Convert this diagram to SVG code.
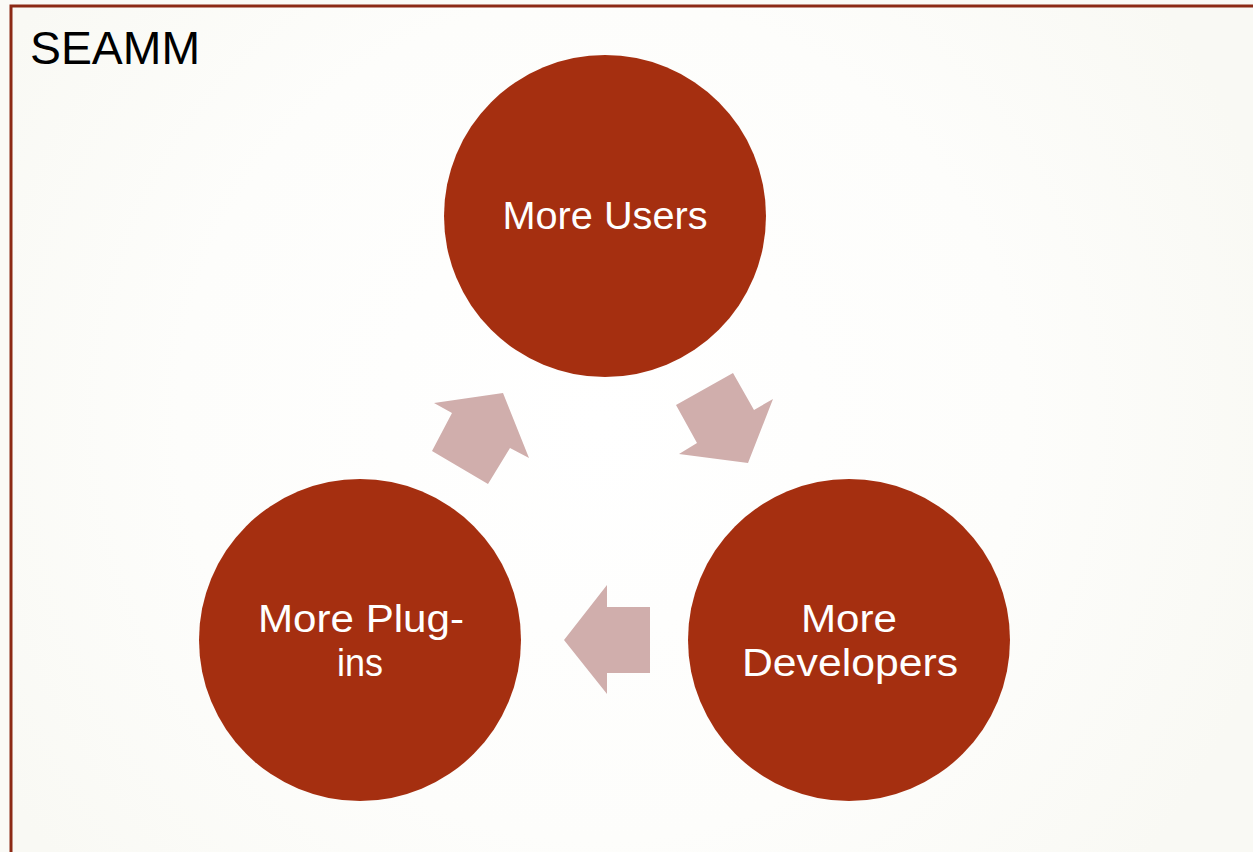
<svg xmlns="http://www.w3.org/2000/svg" width="1253" height="852" viewBox="0 0 1253 852">
  <defs>
    <radialGradient id="bg" cx="600" cy="420" r="700" gradientUnits="userSpaceOnUse">
      <stop offset="0" stop-color="#FFFFFF"/>
      <stop offset="0.6" stop-color="#FDFDFB"/>
      <stop offset="1" stop-color="#F9F9F4"/>
    </radialGradient>
  </defs>
  <style>
    .node circle { fill: #A52F10; }
    .node text { fill: #FFFFFF; font-family: "Liberation Sans", Arial, sans-serif; font-size: 38px; text-anchor: middle; lengthAdjust: spacingAndGlyphs; }
    .arrow { fill: #D0AEAC; }
    .title { fill: #000000; font-family: "Liberation Sans", Arial, sans-serif; font-size: 46px; }
  </style>

  <!-- slide background and frame -->
  <rect x="0" y="0" width="1253" height="852" fill="#FAFAF6"/>
  <rect x="11" y="6" width="1260" height="870" fill="url(#bg)" stroke="#8C2A15" stroke-width="3"/>

  <text class="title" x="30" y="64" textLength="170" lengthAdjust="spacingAndGlyphs">SEAMM</text>

  <!-- cycle arrows -->
  <g id="connectors">
    <polygon class="arrow" points="676,405 733,373 754,410 773,399 748,463 679,454 697,443"/>
    <polygon class="arrow" points="650,607 607,607 607,585 564,640 607,694 607,673 650,673"/>
    <polygon class="arrow" points="432,451 452,413 434,403 503,393 529,458 510,448 488,484"/>
  </g>

  <g id="users" class="node">
    <circle cx="605" cy="216" r="161"/>
    <text x="605" y="229" textLength="205" lengthAdjust="spacingAndGlyphs">More Users</text>
  </g>
  <g id="developers" class="node">
    <circle cx="849" cy="640" r="161"/>
    <text x="849" y="632" textLength="96" lengthAdjust="spacingAndGlyphs">More</text>
    <text x="850" y="676" textLength="216" lengthAdjust="spacingAndGlyphs">Developers</text>
  </g>
  <g id="plugins" class="node">
    <circle cx="360" cy="640" r="161"/>
    <text x="361" y="632" textLength="206" lengthAdjust="spacingAndGlyphs">More Plug-</text>
    <text x="360" y="676" textLength="46" lengthAdjust="spacingAndGlyphs">ins</text>
  </g>
</svg>
